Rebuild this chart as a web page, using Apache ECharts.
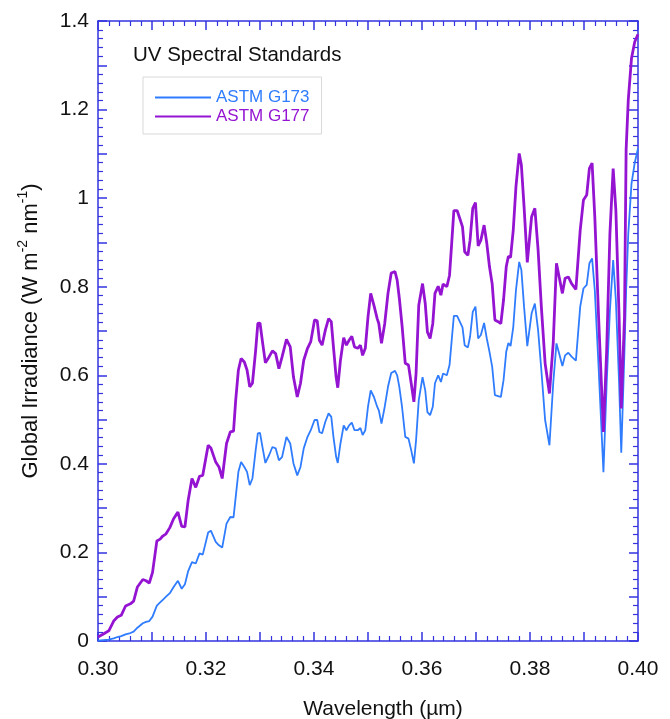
<!DOCTYPE html>
<html>
<head>
<meta charset="utf-8">
<script src="https://cdn.jsdelivr.net/npm/echarts@6/dist/echarts.min.js"></script>
<style>
  html, body { margin: 0; padding: 0; background: #fff; }
  #chart { width: 670px; height: 719px; }
</style>
</head>
<body>
<div id="chart"></div>
<script>
// wavelength in micrometres, irradiance in W m-2 nm-1
var wavelength = [
  0.3000, 0.3010, 0.3020, 0.3029, 0.3036, 0.3043, 0.3051, 0.3060, 0.3066, 0.3073,
  0.3083, 0.3089, 0.3095, 0.3101, 0.3109, 0.3115, 0.3120, 0.3126, 0.3133, 0.3140,
  0.3148, 0.3155, 0.3161, 0.3167, 0.3174, 0.3181, 0.3188, 0.3194, 0.3204, 0.3209,
  0.3218, 0.3224, 0.3230, 0.3238, 0.3245, 0.3251, 0.3255, 0.3260, 0.3265, 0.3271,
  0.3276, 0.3281, 0.3286, 0.3292, 0.3296, 0.3300, 0.3305, 0.3310, 0.3317, 0.3323,
  0.3329, 0.3335, 0.3341, 0.3349, 0.3356, 0.3362, 0.3369, 0.3375, 0.3381, 0.3388,
  0.3394, 0.3401, 0.3406, 0.3410, 0.3415, 0.3421, 0.3427, 0.3432, 0.3436, 0.3441,
  0.3444, 0.3449, 0.3455, 0.3460, 0.3465, 0.3470, 0.3475, 0.3481, 0.3486, 0.3490,
  0.3495, 0.3500, 0.3505, 0.3511, 0.3517, 0.3520, 0.3525, 0.3531, 0.3537, 0.3543,
  0.3550, 0.3554, 0.3558, 0.3563, 0.3569, 0.3575, 0.3580, 0.3585, 0.3589, 0.3594,
  0.3601, 0.3606, 0.3610, 0.3615, 0.3620, 0.3624, 0.3630, 0.3635, 0.3639, 0.3646,
  0.3651, 0.3655, 0.3659, 0.3665, 0.3670, 0.3675, 0.3679, 0.3685, 0.3689, 0.3694,
  0.3699, 0.3704, 0.3709, 0.3715, 0.3720, 0.3725, 0.3730, 0.3735, 0.3741, 0.3746,
  0.3751, 0.3756, 0.3760, 0.3764, 0.3769, 0.3774, 0.3780, 0.3784, 0.3789, 0.3795,
  0.3803, 0.3809, 0.3815, 0.3821, 0.3828, 0.3836, 0.3843, 0.3849, 0.3854, 0.3860,
  0.3865, 0.3871, 0.3877, 0.3885, 0.3893, 0.3899, 0.3905, 0.3910, 0.3915, 0.3920,
  0.3927, 0.3936, 0.3942, 0.3948, 0.3954, 0.3959, 0.3965, 0.3969, 0.3975, 0.3978,
  0.3982, 0.3988, 0.3994, 0.4000
];
var g173 = [
  0.001, 0.002, 0.003, 0.006, 0.009, 0.011, 0.015, 0.018, 0.021, 0.030,
  0.040, 0.043, 0.045, 0.055, 0.080, 0.087, 0.093, 0.100, 0.108, 0.122,
  0.136, 0.118, 0.128, 0.158, 0.178, 0.175, 0.198, 0.195, 0.245, 0.249,
  0.224, 0.216, 0.211, 0.265, 0.280, 0.279, 0.325, 0.382, 0.404, 0.393,
  0.382, 0.352, 0.367, 0.431, 0.469, 0.470, 0.435, 0.402, 0.420, 0.438,
  0.435, 0.408, 0.416, 0.461, 0.446, 0.401, 0.374, 0.393, 0.435, 0.461,
  0.476, 0.499, 0.499, 0.472, 0.469, 0.495, 0.514, 0.506, 0.461, 0.416,
  0.402, 0.446, 0.487, 0.476, 0.487, 0.493, 0.476, 0.476, 0.481, 0.465,
  0.476, 0.529, 0.566, 0.551, 0.529, 0.521, 0.491, 0.529, 0.574, 0.605,
  0.610, 0.600, 0.574, 0.529, 0.461, 0.457, 0.431, 0.401, 0.453, 0.544,
  0.596, 0.566, 0.517, 0.510, 0.529, 0.582, 0.600, 0.585, 0.604, 0.600,
  0.623, 0.679, 0.734, 0.734, 0.721, 0.708, 0.668, 0.663, 0.687, 0.743,
  0.755, 0.683, 0.691, 0.718, 0.683, 0.653, 0.619, 0.555, 0.553, 0.551,
  0.589, 0.653, 0.673, 0.666, 0.709, 0.792, 0.856, 0.838, 0.755, 0.666,
  0.740, 0.762, 0.702, 0.612, 0.499, 0.442, 0.582, 0.672, 0.649, 0.621,
  0.645, 0.651, 0.642, 0.633, 0.755, 0.796, 0.804, 0.853, 0.864, 0.792,
  0.619, 0.381, 0.582, 0.747, 0.860, 0.770, 0.582, 0.425, 0.657, 0.790,
  0.920, 1.033, 1.080, 1.112
];
var g177 = [
  0.009, 0.016, 0.023, 0.045, 0.054, 0.058, 0.079, 0.084, 0.090, 0.122,
  0.139, 0.136, 0.131, 0.155, 0.226, 0.230, 0.237, 0.242, 0.256, 0.276,
  0.291, 0.259, 0.258, 0.318, 0.367, 0.347, 0.372, 0.374, 0.442, 0.436,
  0.404, 0.393, 0.367, 0.446, 0.472, 0.474, 0.544, 0.612, 0.638, 0.630,
  0.612, 0.574, 0.582, 0.657, 0.717, 0.718, 0.672, 0.628, 0.642, 0.655,
  0.649, 0.615, 0.642, 0.681, 0.664, 0.596, 0.551, 0.582, 0.634, 0.661,
  0.676, 0.725, 0.723, 0.679, 0.668, 0.702, 0.728, 0.721, 0.664, 0.596,
  0.572, 0.634, 0.685, 0.668, 0.679, 0.688, 0.664, 0.661, 0.668, 0.645,
  0.661, 0.732, 0.785, 0.758, 0.728, 0.717, 0.672, 0.717, 0.785, 0.831,
  0.834, 0.815, 0.774, 0.713, 0.627, 0.623, 0.582, 0.540, 0.604, 0.758,
  0.807, 0.762, 0.698, 0.683, 0.717, 0.785, 0.801, 0.781, 0.806, 0.800,
  0.826, 0.898, 0.972, 0.972, 0.954, 0.935, 0.879, 0.871, 0.905, 0.977,
  0.990, 0.892, 0.905, 0.939, 0.898, 0.845, 0.806, 0.725, 0.721, 0.717,
  0.770, 0.845, 0.869, 0.866, 0.928, 1.026, 1.101, 1.075, 0.981, 0.855,
  0.958, 0.977, 0.883, 0.755, 0.627, 0.559, 0.672, 0.853, 0.822, 0.785,
  0.819, 0.822, 0.807, 0.794, 0.928, 0.996, 1.007, 1.067, 1.079, 0.958,
  0.732, 0.472, 0.657, 0.920, 1.067, 0.973, 0.732, 0.525, 0.732, 1.109,
  1.222, 1.316, 1.353, 1.370
];
var xTickLabels = [0.30, 0.32, 0.34, 0.36, 0.38, 0.40];
var yTickLabels = [0, 0.2, 0.4, 0.6, 0.8, 1, 1.2, 1.4];

var axisColor = '#3333e0';
var blue = '#2f7cff';
var purple = '#9414d2';
var font = "'Liberation Sans', Arial, Helvetica, sans-serif";

function hasLabel(list, v) {
  for (var i = 0; i < list.length; i++) {
    if (Math.abs(list[i] - v) < 1e-6) return true;
  }
  return false;
}

function frameAxis(pos, isX) {
  return {
    type: 'value',
    position: pos,
    min: isX ? 0.30 : 0,
    max: isX ? 0.40 : 1.4,
    interval: isX ? 0.01 : 0.1,
    axisLine: { show: true, onZero: false, lineStyle: { color: axisColor, width: 1.5 } },
    axisTick: { show: true, inside: true, length: 9, lineStyle: { color: axisColor, width: 1.5 } },
    minorTick: { show: true, splitNumber: 5, length: 5, lineStyle: { color: axisColor, width: 1.2 } },
    splitLine: { show: false },
    minorSplitLine: { show: false },
    axisLabel: { show: false }
  };
}

var xBottom = frameAxis('bottom', true);
xBottom.axisLabel = {
  show: true, margin: 18, color: '#111', fontSize: 21, fontFamily: font,
  formatter: function (v) { return hasLabel(xTickLabels, v) ? v.toFixed(2) : ''; }
};
xBottom.name = 'Wavelength (µm)';
xBottom.nameLocation = 'middle';
xBottom.nameGap = 58;
xBottom.nameTextStyle = { color: '#111', fontSize: 21, fontFamily: font, padding: [0, 0, 0, 30] };

var xTop = frameAxis('top', true);

var yLeft = frameAxis('left', false);
yLeft.axisLabel = {
  show: true, margin: 9, color: '#111', fontSize: 21, fontFamily: font,
  formatter: function (v) { return hasLabel(yTickLabels, v) ? String(+v.toFixed(1)) : ''; }
};
yLeft.name = 'Global Irradiance (W m{sup|-2} nm{sup|-1})';
yLeft.nameLocation = 'middle';
yLeft.nameGap = 52;
yLeft.nameTextStyle = {
  color: '#111', fontSize: 22, fontFamily: font, lineHeight: 30,
  rich: {
    sup: { fontSize: 14, fontFamily: font, color: '#111', verticalAlign: 'top', lineHeight: 17 }
  }
};

var yRight = frameAxis('right', false);

var chart = echarts.init(document.getElementById('chart'), null, { renderer: 'canvas' });
chart.setOption({
  backgroundColor: '#fff',
  animation: false,
  textStyle: { fontFamily: font },
  grid: { left: 98, right: 32, top: 21, bottom: 78, containLabel: false, outerBoundsMode: 'none' },
  title: {
    text: 'UV Spectral Standards',
    left: 133, top: 45,
    padding: 0,
    textStyle: { color: '#111', fontSize: 20.5, fontWeight: 'normal', fontFamily: font }
  },
  legend: {
    orient: 'vertical',
    left: 143, top: 77,
    padding: [11, 12, 8, 11],
    itemGap: 0,
    itemWidth: 56, itemHeight: 12,
    borderColor: '#d9d9d9', borderWidth: 1,
    itemStyle: { color: 'rgba(0,0,0,0)', borderWidth: 0, opacity: 0 },
    textStyle: { fontSize: 17, fontFamily: font, lineHeight: 19 },
    data: [
      { name: 'ASTM G173', textStyle: { color: blue } },
      { name: 'ASTM G177', textStyle: { color: purple } }
    ]
  },
  xAxis: [xBottom, xTop],
  yAxis: [yLeft, yRight],
  series: [
    {
      name: 'ASTM G173', type: 'line', xAxisIndex: 0, yAxisIndex: 0,
      symbol: 'none', color: blue,
      lineStyle: { color: blue, width: 1.8 },
      data: wavelength.map(function (w, i) { return [w, g173[i]]; })
    },
    {
      name: 'ASTM G177', type: 'line', xAxisIndex: 0, yAxisIndex: 0,
      symbol: 'none', color: purple,
      lineStyle: { color: purple, width: 2.8 },
      data: wavelength.map(function (w, i) { return [w, g177[i]]; })
    }
  ]
});
</script>
</body>
</html>
